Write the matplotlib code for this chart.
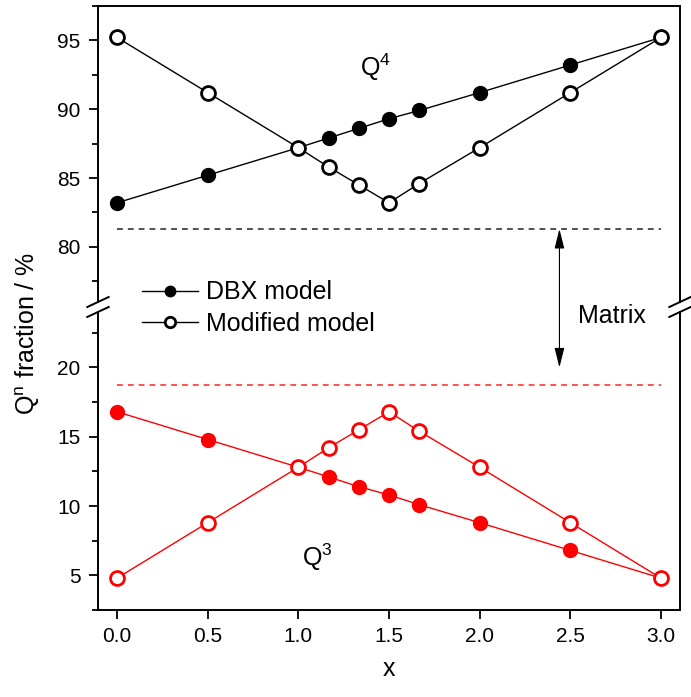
import matplotlib
matplotlib.use("Agg")
import matplotlib.pyplot as plt
from matplotlib.ticker import MultipleLocator
from matplotlib.patches import ConnectionPatch

plt.rcParams["font.family"] = ["Liberation Sans", "DejaVu Sans"]
plt.rcParams["mathtext.fontset"] = "custom"
plt.rcParams["mathtext.rm"] = "Liberation Sans"
plt.rcParams["mathtext.it"] = "Liberation Sans:italic"

# x values (composition)
x = [0.0, 0.5, 1.0, 7 / 6, 4 / 3, 1.5, 5 / 3, 2.0, 2.5, 3.0]

# Q4 fractions
q4_dbx = [83.2, 85.2, 87.2, 87.9, 88.6, 89.3, 89.9, 91.2, 93.2, 95.2]
q4_mod = [95.2, 91.2, 87.2, 85.8, 84.5, 83.2, 84.6, 87.2, 91.2, 95.2]

# Q3 fractions
q3_dbx = [16.8, 14.8, 12.8, 12.1, 11.4, 10.8, 10.1, 8.8, 6.8, 4.8]
q3_mod = [4.8, 8.8, 12.8, 14.2, 15.5, 16.8, 15.4, 12.8, 8.8, 4.8]

# matrix levels
matrix_q4 = 81.3
matrix_q3 = 18.7
matrix_x = 2.44

fig = plt.figure(figsize=(6.91, 6.97), dpi=100)
ax_top = fig.add_axes([0.1418, 0.5667, 0.8423, 0.4250])
ax_bot = fig.add_axes([0.1418, 0.1248, 0.8423, 0.4276])

ms = 10
lw = 1.0

# upper panel (Q4)
l1, = ax_top.plot(x, q4_dbx, "-o", color="black", lw=lw, ms=ms, mew=1,
                  mfc="black", mec="black", label="DBX model")
l2, = ax_top.plot(x, q4_mod, "-o", color="black", lw=lw, ms=ms, mew=2,
                  mfc="white", mec="black", label="Modified model")
ax_top.plot([0, 3], [matrix_q4, matrix_q4], color="#333333", lw=1.2,
            dashes=(3.5, 3))

# lower panel (Q3)
ax_bot.plot(x, q3_dbx, "-o", color="red", lw=lw, ms=ms, mew=1,
            mfc="red", mec="red")
ax_bot.plot(x, q3_mod, "-o", color="red", lw=lw, ms=ms, mew=2,
            mfc="white", mec="red")
ax_bot.plot([0, 3], [matrix_q3, matrix_q3], color="#ff3333", lw=1.2,
            dashes=(3.5, 3))

ax_top.set_ylim(76, 97.5)
ax_bot.set_ylim(2.5, 24)
for ax in (ax_top, ax_bot):
    ax.set_xlim(-0.105, 3.105)
    ax.yaxis.set_major_locator(MultipleLocator(5))
    ax.yaxis.set_minor_locator(MultipleLocator(2.5))
    ax.tick_params(axis="both", which="major", direction="out", length=6.5,
                   width=1.3, labelsize=15, pad=6)
    ax.tick_params(axis="y", which="minor", direction="out", length=4.5,
                   width=1.3)
    ax.tick_params(right=False, top=False)
    for s in ax.spines.values():
        s.set_linewidth(1.4)

ax_bot.xaxis.set_major_locator(MultipleLocator(0.5))
ax_bot.xaxis.set_major_formatter(matplotlib.ticker.FormatStrFormatter("%.1f"))
ax_top.spines["bottom"].set_visible(False)
ax_bot.spines["top"].set_visible(False)
ax_top.tick_params(axis="x", bottom=False, labelbottom=False)

# break marks
dx = 0.0184
for ax, yc, dy in ((ax_top, 0, 0.0169), (ax_bot, 1, 0.0168)):
    for xc in (0, 1):
        ax.plot([xc - dx, xc + dx], [yc - dy, yc + dy], color="black",
                lw=1.4, transform=ax.transAxes, clip_on=False)

# double arrow across the break
con = ConnectionPatch(xyA=(matrix_x, matrix_q4), coordsA=ax_top.transData,
                      xyB=(matrix_x, matrix_q3 + 1.3), coordsB=ax_bot.transData,
                      arrowstyle="<|-|>,head_length=0.6,head_width=0.15",
                      mutation_scale=20, lw=0.8, color="black")
fig.add_artist(con)
fig.text(612 / 691, 1 - 323 / 697, "Matrix", fontsize=18, ha="center",
         va="baseline")

ax_top.text(1.34, 92.4, r"Q$^{\mathrm{4}}$", fontsize=18, ha="left",
            va="baseline")
ax_bot.text(1.02, 5.7, r"Q$^{\mathrm{3}}$", fontsize=18, ha="left",
            va="baseline")

fig.legend(handles=[l1, l2], loc="center left",
           bbox_to_anchor=(142 / 691, 1 - 308 / 697), frameon=False,
           fontsize=18, handlelength=2.25, handletextpad=0.3,
           labelspacing=0.3, borderpad=0, borderaxespad=0, markerscale=0.75)

fig.text(28 / 691, 1 - 333 / 697, r"Q$^{\mathrm{n}}$ fraction / %",
         fontsize=18, rotation=90, ha="center", va="center")
ax_bot.set_xlabel("x", fontsize=18, labelpad=8)

fig.savefig("out.png", dpi=100)
